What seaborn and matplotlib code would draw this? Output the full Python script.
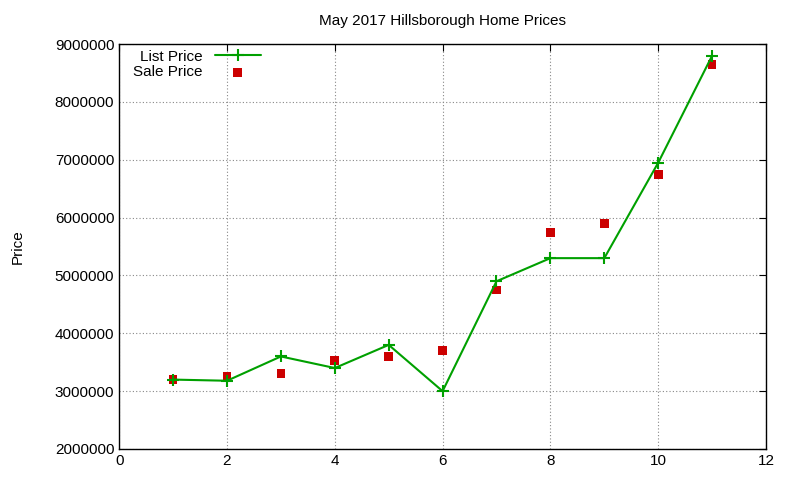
import matplotlib
matplotlib.use("Agg")
import matplotlib.pyplot as plt
import seaborn as sns
import pandas as pd

x = [1, 2, 3, 4, 5, 6, 7, 8, 9, 10, 11]
list_price = [3200000, 3180000, 3600000, 3400000, 3800000, 3000000, 4900000, 5300000, 5300000, 6950000, 8800000]
sale_price = [3200000, 3250000, 3300000, 3530000, 3600000, 3700000, 4750000, 5750000, 5900000, 6750000, 8650000]

sns.set_style("white", {"text.color": "black", "axes.labelcolor": "black",
                        "xtick.color": "black", "ytick.color": "black"})
plt.rcParams['font.family'] = ['Liberation Sans', 'DejaVu Sans']

df = pd.DataFrame({"x": x, "list": list_price, "sale": sale_price})
fig = plt.figure(figsize=(8, 4.8), dpi=100)
ax = fig.add_axes([0.149, 0.0646, 0.8085, 0.8434])

sns.scatterplot(data=df, x="x", y="sale", ax=ax, color="#cc0000", marker="s", s=40,
                edgecolor="none", label="Sale Price", zorder=2)
sns.lineplot(data=df, x="x", y="list", ax=ax, color="#00a000", marker="+", markersize=8,
             markeredgewidth=1.5, markeredgecolor="#00a000", linewidth=1.5,
             label="List Price", zorder=3)

ax.set_xlim(0, 12)
ax.set_ylim(2000000, 9000000)
ax.set_xticks(range(0, 13, 2))
ax.set_yticks(range(2000000, 9000001, 1000000))
ax.ticklabel_format(style='plain', axis='y')
ax.grid(True, color="#888888", linestyle=(0, (1, 2)), linewidth=0.8)
ax.tick_params(direction="in", top=True, right=True, labelsize=11, length=5, colors="black")
for s in ax.spines.values():
    s.set_color("black"); s.set_linewidth(1)
ax.set_xlabel("")
ax.set_ylabel("Price", fontsize=11, labelpad=22, color="black")
ax.set_title("May 2017 Hillsborough Home Prices", fontsize=11, pad=14, color="black")
h, l = ax.get_legend_handles_labels()
order = [l.index("List Price"), l.index("Sale Price")]
ax.legend([h[i] for i in order], [l[i] for i in order], loc="upper left", frameon=False,
          markerfirst=False, fontsize=11, bbox_to_anchor=(0.0, 1.02), handlelength=3,
          labelspacing=0.1)
fig.savefig("out.png", dpi=100)
